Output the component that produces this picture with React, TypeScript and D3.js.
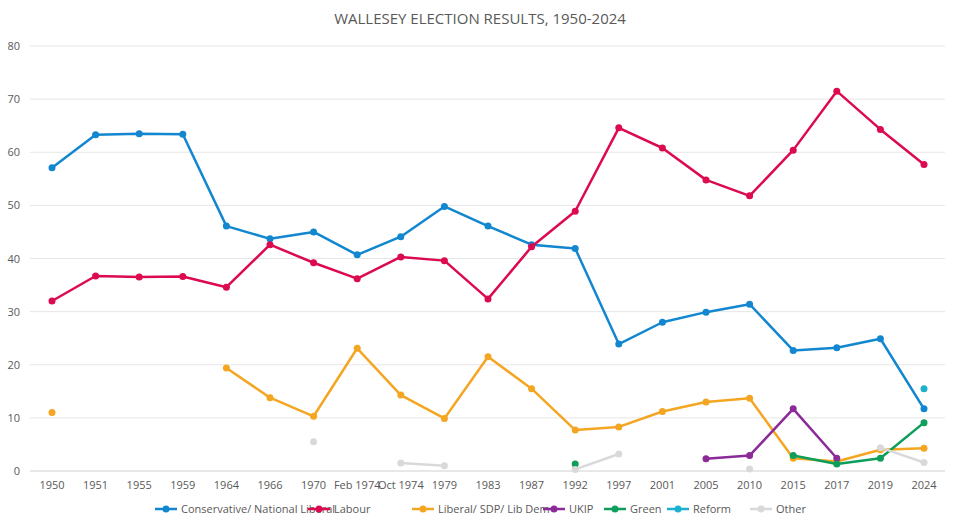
import React from "react";
import * as d3 from "d3";

const categories = ["1950","1951","1955","1959","1964","1966","1970","Feb 1974","Oct 1974","1979","1983","1987","1992","1997","2001","2005","2010","2015","2017","2019","2024"];
const N = null;
const conservative = [57.1,63.3,63.5,63.4,46.1,43.7,45.0,40.7,44.1,49.8,46.1,42.6,41.9,23.9,28.0,29.9,31.4,22.7,23.2,24.9,11.7];
const labour = [32.0,36.7,36.5,36.6,34.6,42.6,39.2,36.2,40.3,39.6,32.4,42.2,48.9,64.6,60.8,54.8,51.8,60.4,71.5,64.3,57.7];
const liberal = [11.0,N,N,N,19.4,13.8,10.3,23.1,14.3,9.9,21.5,15.5,7.7,8.3,11.2,13.0,13.7,2.4,1.8,4.0,4.3];
const ukip = [N,N,N,N,N,N,N,N,N,N,N,N,N,N,N,2.3,2.9,11.7,2.4,N,N];
const green = [N,N,N,N,N,N,N,N,N,N,N,N,1.3,N,N,N,N,2.9,1.3,2.4,9.1];
const reform = [N,N,N,N,N,N,N,N,N,N,N,N,N,N,N,N,N,N,N,N,15.5];
const other = [N,N,N,N,N,N,5.5,N,1.5,1.0,N,N,0.3,3.2,N,N,0.4,N,N,4.4,1.6];
const yTicks = [0,10,20,30,40,50,60,70,80];

const series = [
  { name: "Conservative/ National Liberal", values: conservative, color: "#1287d0" },
  { name: "Labour", values: labour, color: "#dc0a4e" },
  { name: "Liberal/ SDP/ Lib  Dem", values: liberal, color: "#f4a622" },
  { name: "UKIP", values: ukip, color: "#8b2b98" },
  { name: "Green", values: green, color: "#0c9e5a" },
  { name: "Reform", values: reform, color: "#1cb2cf" },
  { name: "Other", values: other, color: "#d9d9d9" },
];
const legendX = [155, 308, 412, 543, 604, 667, 750];

export default function App() {
  const x = d3.scalePoint<string>().domain(categories).range([52, 924]);
  const y = d3.scaleLinear().domain([0, 80]).range([471, 46]);
  const font = "'Open Sans', 'Noto Sans', sans-serif";
  return (
    <svg width={960} height={528} style={{ position: "absolute", left: 0, top: 0, background: "#fff" }} fontFamily={font}>
      <text x={480} y={24} textAnchor="middle" fontSize={15} fill="#595959">WALLESEY ELECTION RESULTS, 1950-2024</text>
      {yTicks.map(t => (
        <g key={t}>
          <line x1={30} x2={945} y1={y(t)} y2={y(t)} stroke={t === 0 ? "#d0d0d0" : "#e6e6e6"} />
          <text x={20} y={y(t) + 4} textAnchor="end" fontSize={11} fill="#595959">{t}</text>
        </g>
      ))}
      {categories.map(c => (
        <text key={c} x={x(c)} y={489} textAnchor="middle" fontSize={11} fill="#595959">{c}</text>
      ))}
      {series.map(s => {
        const line = d3.line<number | null>()
          .defined(v => v !== null)
          .x((_, i) => x(categories[i])!)
          .y(v => y(v as number));
        return (
          <g key={s.name}>
            <path d={line(s.values) || ""} fill="none" stroke={s.color} strokeWidth={2.5} strokeLinejoin="round" />
            {s.values.map((v, i) => v === null ? null : (
              <circle key={i} cx={x(categories[i])} cy={y(v)} r={3.5} fill={s.color} />
            ))}
          </g>
        );
      })}
      {series.map((s, i) => (
        <g key={s.name} transform={`translate(${legendX[i]},509)`}>
          <line x1={0} x2={22} y1={0} y2={0} stroke={s.color} strokeWidth={2.5} />
          <circle cx={11} cy={0} r={3.5} fill={s.color} />
          <text x={26} y={4} fontSize={11} fill="#595959">{s.name}</text>
        </g>
      ))}
    </svg>
  );
}
